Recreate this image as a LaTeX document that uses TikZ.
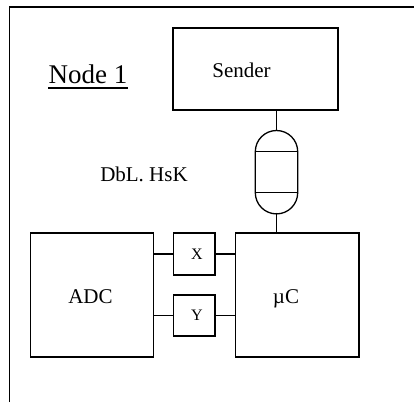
\documentclass[tikz,border=0pt]{standalone}
\usepackage{fontspec}
\setmainfont{Liberation Serif}
\begin{document}
\begin{tikzpicture}[x=1pt,y=-1pt,
  box/.style={draw, line width=1.3pt, inner sep=0pt},
  wire/.style={line width=1.3pt},
  big/.style={font=\fontsize{21}{24}\selectfont, anchor=base, inner sep=0pt},
  small/.style={font=\fontsize{16}{18}\selectfont, anchor=base, inner sep=0pt}]
\useasboundingbox (0,0) rectangle (414,402);
\draw[line width=1.8pt] (9.5,402) -- (9.5,7) -- (414,7);
% boxes
\node[box, minimum width=165pt, minimum height=82pt] (sender) at (255.5,69) {};
\node[box, minimum width=123pt, minimum height=124pt] (adc) at (92.2,295) {};
\node[box, minimum width=123.3pt, minimum height=124pt] (uc) at (297.3,295) {};
\node[box, minimum width=41.3pt, minimum height=42pt] (xb) at (194.3,254) {};
\node[box, minimum width=41.3pt, minimum height=41pt] (yb) at (194.3,315.5) {};
% texts
\node[font=\fontsize{27}{30}\selectfont, anchor=base, inner sep=0pt] (title) at (88,83) {Node 1};
\draw[line width=1.3pt] ([yshift=-5pt]title.base west) -- ([yshift=-5pt]title.base east);
\node[big] (senderlbl) at (241.5,77.3) {Sender};
\node[big] (hsk) at (144,181) {DbL. HsK};
\node[big] (adclbl) at (90.5,303.3) {ADC};
\node[big] (uclbl) at (286,303.3) {µC};
\node[small] (xlbl) at (197,259) {X};
\node[small] (ylbl) at (197,320) {Y};
% capsule
\coordinate (capT) at (276.5,130);
\coordinate (capB) at (276.5,212.7);
\draw[wire] (255.3,151.7) arc[start angle=180, end angle=360, radius=21.2] -- (297.7,192.7)
  arc[start angle=0, end angle=180, radius=21.2] -- cycle;
\draw[wire] (255.3,151.7) -- (297.7,151.7);
\draw[wire] (255.3,192.7) -- (297.7,192.7);
% connectors
\draw[wire] (sender.south -| capT) -- (capT);
\draw[wire] (capB) -- (capB |- uc.north);
\draw[wire] (adc.east |- xb.west) -- (xb.west);
\draw[wire] (xb.east) -- (uc.west |- xb.east);
\draw[wire] (adc.east |- yb.west) -- (yb.west);
\draw[wire] (yb.east) -- (uc.west |- yb.east);
\end{tikzpicture}
\end{document}
